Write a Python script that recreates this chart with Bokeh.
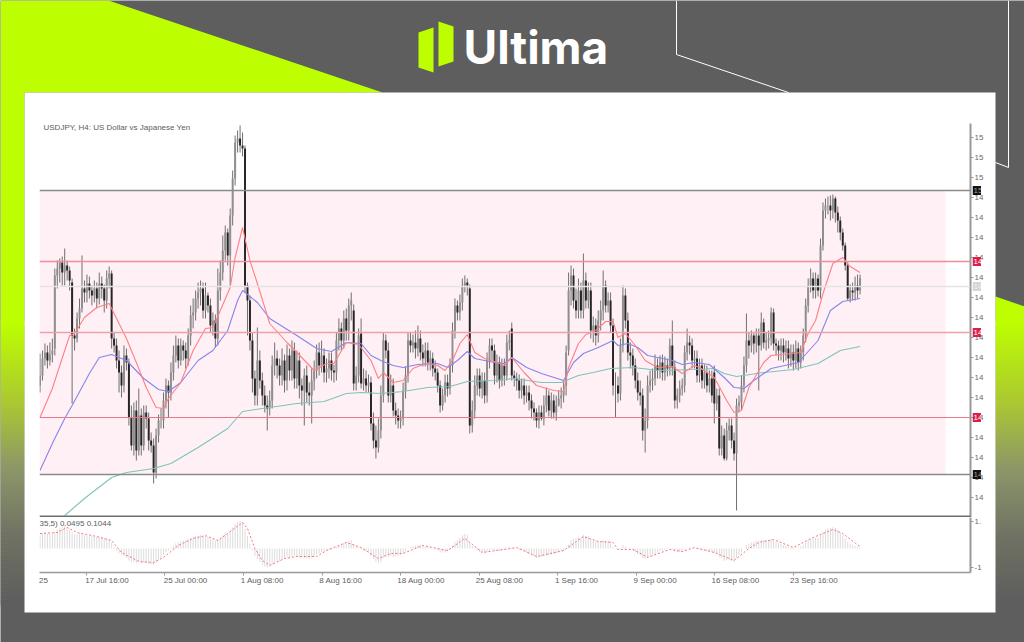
from bokeh.plotting import figure
from bokeh.models import FixedTicker, LinearAxis, Range1d, Span
from bokeh.core.properties import value
from bokeh.embed import file_html
from bokeh.resources import INLINE

TITLE = "USDJPY, H4:  US Dollar vs Japanese Yen"
OSC_TEXT = "35,5) 0.0495 0.1044"

opens = [
148.05,148.15,148.32,148.38,148.30,148.36,148.42,149.15,149.22,149.28,
149.18,149.25,149.20,149.08,148.55,148.52,148.72,148.82,149.02,148.98,
149.07,149.00,148.95,149.02,148.92,149.07,149.02,148.90,149.12,149.17,
148.52,148.45,148.30,148.18,148.05,148.35,148.28,147.73,147.45,147.80,
147.40,147.75,147.45,147.78,147.72,147.50,147.45,147.18,147.55,147.70,
147.70,147.90,148.05,147.98,148.18,148.35,148.45,148.30,148.45,148.40,
148.32,148.55,148.75,148.78,148.92,148.98,149.02,148.80,148.95,148.85,
148.65,148.70,148.52,149.00,149.18,149.40,149.58,149.35,149.75,150.12,
150.48,150.52,150.45,150.42,149.05,148.90,148.50,148.12,147.95,148.30,
148.10,147.95,147.85,147.82,147.90,148.25,148.32,148.25,148.15,148.30,
148.10,148.35,148.20,148.40,148.12,148.30,148.05,148.00,148.15,147.98,
147.95,148.10,148.20,148.38,148.25,148.35,148.18,148.22,148.30,148.20,
148.18,148.50,148.62,148.50,148.72,148.60,148.85,148.80,148.07,148.15,
148.57,148.07,148.12,148.05,148.08,147.67,147.50,147.43,147.60,147.95,
148.50,148.40,147.95,148.05,147.80,147.75,147.70,147.72,148.00,148.15,
148.50,148.45,148.48,148.42,148.52,148.38,148.32,148.40,148.28,148.32,
148.22,148.18,148.05,147.85,147.95,148.08,148.02,148.25,148.60,148.85,
148.78,148.88,149.05,149.08,149.02,147.65,147.80,148.05,148.15,148.02,
148.10,147.95,148.30,148.45,148.40,148.15,148.28,148.10,148.25,148.15,
148.48,148.62,148.15,148.12,148.10,148.00,148.05,147.95,147.98,147.90,
147.82,147.78,147.70,147.78,147.72,147.85,147.95,147.80,147.90,147.78,
147.85,147.92,147.95,148.05,148.40,149.00,149.15,148.90,148.80,149.00,
148.80,149.10,148.90,149.00,148.60,148.65,148.55,148.70,148.80,149.05,
148.85,148.90,148.65,148.05,148.05,147.97,148.45,148.95,148.70,148.38,
148.35,148.25,148.10,147.98,147.95,147.60,147.70,148.05,148.10,148.12,
148.25,148.20,148.28,148.18,148.25,148.22,148.45,148.23,147.90,147.95,
148.02,148.05,148.38,148.48,148.45,148.30,148.32,148.15,148.25,148.10,
148.18,148.05,148.12,148.18,147.87,147.95,147.42,147.55,147.32,147.60,
147.65,147.50,147.37,147.85,147.88,148.05,148.25,148.50,148.45,148.55,
148.47,148.55,148.45,148.68,148.48,148.50,148.52,148.78,148.47,148.45,
148.40,148.45,148.38,148.42,148.32,148.38,148.30,148.42,148.28,148.38,
148.55,148.85,149.05,149.12,149.00,149.12,149.00,149.45,149.80,149.85,
149.85,149.80,149.92,149.78,149.70,149.58,149.45,149.25,148.92,149.00,
148.98,149.05,149.00]

highs = [
148.37,148.40,148.47,148.45,148.48,148.52,149.22,149.30,149.32,149.34,
149.42,149.30,149.24,149.12,148.62,148.78,148.92,149.35,149.10,149.16,
149.14,149.05,149.10,149.08,149.18,149.14,149.06,149.20,149.24,149.20,
148.58,148.52,148.40,148.25,148.45,148.42,148.32,147.85,147.88,147.90,
148.02,147.82,147.85,147.85,147.78,147.58,147.52,147.62,147.76,147.82,
147.98,148.12,148.10,148.28,148.45,148.55,148.52,148.52,148.50,148.48,
148.62,148.85,148.92,149.00,149.08,149.10,149.08,149.08,148.98,148.92,
148.78,148.76,149.22,149.30,149.55,149.65,149.62,149.82,150.20,150.55,
150.60,150.65,150.58,150.45,149.08,148.95,148.58,148.20,148.63,148.40,
148.18,148.05,147.95,148.00,148.35,148.48,148.40,148.32,148.42,148.36,
148.46,148.42,148.50,148.48,148.40,148.38,148.12,148.22,148.25,148.08,
148.22,148.30,148.46,148.48,148.50,148.42,148.32,148.38,148.38,148.26,
148.58,148.72,148.68,148.80,148.82,148.92,148.98,148.86,148.24,148.62,
148.72,148.22,148.20,148.16,148.14,147.78,147.65,147.72,148.05,148.58,
148.56,148.48,148.16,148.12,147.88,147.82,147.80,148.08,148.24,148.58,
148.58,148.56,148.60,148.65,148.60,148.46,148.48,148.48,148.40,148.38,
148.30,148.22,148.10,148.02,148.16,148.16,148.32,148.68,148.92,148.90,
148.96,149.12,149.15,149.12,149.06,147.90,148.15,148.22,148.22,148.18,
148.18,148.38,148.52,148.52,148.46,148.36,148.34,148.32,148.32,148.56,
148.60,148.68,148.20,148.18,148.16,148.12,148.12,148.05,148.05,147.96,
147.88,147.82,147.85,147.85,147.95,148.03,148.00,147.98,147.96,147.95,
148.00,148.03,148.10,148.45,149.18,149.25,149.22,149.02,149.12,149.08,
149.37,149.18,149.08,149.08,148.74,148.72,148.80,148.90,149.20,149.10,
148.98,148.98,148.72,148.18,148.14,148.52,149.05,149.02,148.78,148.48,
148.42,148.32,148.18,148.10,148.02,147.82,148.15,148.20,148.22,148.36,
148.32,148.35,148.36,148.34,148.32,148.52,148.70,148.30,148.02,148.10,
148.12,148.45,148.62,148.55,148.52,148.40,148.40,148.32,148.32,148.26,
148.25,148.20,148.20,148.25,148.02,148.02,147.65,147.62,147.68,147.72,
147.72,147.58,147.92,147.95,148.15,148.34,148.77,148.58,148.60,148.58,
148.62,148.62,148.78,148.72,148.58,148.60,148.83,148.82,148.52,148.50,
148.52,148.52,148.50,148.50,148.46,148.46,148.50,148.48,148.45,148.62,
148.92,149.12,149.22,149.18,149.18,149.16,149.52,149.88,149.92,149.94,
149.95,149.96,149.94,149.84,149.74,149.62,149.48,149.28,149.06,149.08,
149.14,149.16,149.16]

lows = [
147.98,148.10,148.25,148.22,148.25,148.28,148.35,149.02,149.08,149.05,
149.05,149.10,149.00,147.87,148.40,148.48,148.62,148.78,148.88,148.88,
148.92,148.85,148.88,148.82,148.86,148.92,148.78,148.82,149.02,148.42,
148.38,148.22,147.98,147.93,147.98,148.20,147.65,147.40,147.35,147.30,
147.35,147.35,147.40,147.62,147.40,147.38,147.07,147.12,147.48,147.62,
147.62,147.82,147.73,147.90,148.10,148.28,148.22,148.25,148.30,148.22,
148.25,148.45,148.62,148.70,148.82,148.85,148.72,148.72,148.78,148.58,
148.55,148.43,148.45,148.90,149.10,149.30,149.25,149.05,149.65,150.05,
150.38,150.38,150.34,148.98,148.55,148.40,147.98,147.85,147.85,148.02,
147.85,147.78,147.60,147.75,147.82,148.15,148.12,148.05,148.05,147.98,
148.00,148.10,148.10,148.02,148.02,147.92,147.85,147.65,147.88,147.85,
147.67,148.00,148.12,148.15,148.18,148.08,148.08,148.12,148.10,148.08,
148.10,148.40,148.40,148.42,148.50,148.50,148.70,148.00,148.00,148.08,
148.02,148.00,147.98,147.98,147.60,147.42,147.32,147.38,147.52,147.88,
148.32,147.88,147.88,147.74,147.66,147.62,147.62,147.65,147.92,148.08,
148.38,148.38,148.32,148.34,148.30,148.24,148.24,148.20,148.20,148.14,
148.10,147.98,147.78,147.80,147.88,147.94,147.96,148.18,148.52,148.70,
148.70,148.80,148.98,148.95,147.57,147.58,147.72,147.95,147.94,147.92,
147.87,147.88,148.22,148.30,148.06,148.08,148.02,148.04,148.05,148.10,
148.40,148.10,148.04,148.00,147.92,147.92,147.86,147.88,147.80,147.72,
147.70,147.63,147.62,147.70,147.65,147.78,147.74,147.72,147.72,147.70,
147.84,147.82,147.88,147.95,148.35,148.85,148.82,148.72,148.72,148.72,
148.72,148.82,148.82,148.52,148.48,148.45,148.48,148.60,148.70,148.78,
148.78,148.58,147.95,147.73,147.88,147.90,148.38,148.62,148.30,148.22,
148.15,148.02,147.90,147.85,147.50,147.38,147.62,147.98,148.00,148.05,
148.12,148.12,148.10,148.10,148.14,148.15,148.15,147.82,147.82,147.88,
147.95,147.98,148.30,148.36,148.22,148.22,148.08,148.08,148.02,148.02,
147.98,147.98,147.88,147.67,147.80,147.35,147.35,147.30,147.30,147.50,
147.42,147.30,146.80,147.78,147.80,147.98,148.18,148.32,148.38,148.36,
148.38,148.00,148.40,148.42,148.40,148.42,148.45,148.40,148.35,148.30,
148.30,148.28,148.30,148.22,148.24,148.20,148.22,148.20,148.22,148.30,
148.48,148.78,148.98,148.92,148.92,148.94,148.92,149.40,149.72,149.76,
149.70,149.72,149.68,149.58,149.50,149.40,149.20,148.90,148.88,148.90,
148.90,148.92,148.96]

closes = [
148.15,148.32,148.38,148.30,148.36,148.40,149.15,149.22,149.28,149.18,
149.25,149.20,149.10,148.55,148.52,148.72,148.82,149.02,148.98,149.07,
149.00,148.95,149.02,148.92,149.07,149.02,148.90,149.12,149.17,148.52,
148.45,148.30,148.18,148.05,148.35,148.28,147.73,147.45,147.80,147.40,
147.75,147.45,147.78,147.72,147.50,147.45,147.18,147.55,147.70,147.70,
147.90,148.05,147.98,148.18,148.35,148.45,148.30,148.45,148.40,148.32,
148.55,148.75,148.78,148.92,148.98,149.02,148.80,148.95,148.85,148.65,
148.70,148.52,149.00,149.18,149.40,149.58,149.35,149.75,150.12,150.48,
150.52,150.45,150.42,149.05,148.90,148.50,148.12,147.95,148.30,148.10,
147.95,147.85,147.82,147.90,148.25,148.32,148.25,148.15,148.30,148.10,
148.35,148.20,148.40,148.12,148.30,148.05,148.00,148.15,147.98,147.95,
148.10,148.20,148.38,148.25,148.35,148.18,148.22,148.30,148.20,148.18,
148.50,148.62,148.50,148.72,148.60,148.85,148.90,148.07,148.15,148.55,
148.07,148.12,148.05,148.08,147.67,147.50,147.43,147.60,147.95,148.50,
148.40,147.95,148.05,147.80,147.75,147.70,147.72,148.00,148.15,148.50,
148.45,148.48,148.42,148.52,148.38,148.32,148.40,148.28,148.32,148.22,
148.18,148.05,147.85,147.95,148.08,148.02,148.25,148.60,148.85,148.78,
148.88,149.05,149.08,149.05,147.65,147.80,148.05,148.15,148.02,148.10,
147.95,148.30,148.45,148.40,148.15,148.28,148.10,148.25,148.15,148.48,
148.50,148.15,148.12,148.10,148.00,148.05,147.95,147.98,147.90,147.82,
147.78,147.70,147.78,147.72,147.85,147.95,147.80,147.90,147.78,147.85,
147.92,147.95,148.00,148.38,149.00,149.15,148.90,148.80,149.00,148.80,
149.10,148.90,149.00,148.60,148.65,148.55,148.70,148.80,149.05,148.85,
148.90,148.65,148.05,148.05,147.97,148.45,148.95,148.70,148.38,148.35,
148.25,148.10,147.98,147.95,147.60,147.70,148.05,148.10,148.12,148.25,
148.20,148.28,148.18,148.25,148.22,148.45,148.23,147.90,147.95,148.02,
148.05,148.38,148.48,148.45,148.30,148.32,148.15,148.25,148.10,148.18,
148.05,148.12,147.95,147.87,147.95,147.42,147.55,147.32,147.60,147.65,
147.50,147.37,147.85,147.88,148.05,148.25,148.50,148.45,148.55,148.47,
148.55,148.45,148.68,148.48,148.50,148.52,148.78,148.47,148.45,148.40,
148.45,148.38,148.42,148.32,148.38,148.30,148.42,148.28,148.38,148.55,
148.85,149.05,149.12,149.00,149.12,149.00,149.45,149.80,149.85,149.85,
149.80,149.92,149.78,149.70,149.58,149.45,149.25,148.92,149.00,148.98,
149.05,149.00,149.12]

red_bars = [0,5,10,12,14,18,23,28,30,35,39,43,47,50,52,57,62,67,70,73,77,79,82,85,88,93,100,104,111,116,119,124,129,134,137,139,143,147,151,156,161,164,167,170,173,176,180,185,188,191,196,201,208,212,214,218,221,225,229,232,234,237,241,245,250,256,260,265,267,273,278,281,284,287,293,296,305,308,311,314,317,321,325,328,332]
red_ma = [147.73,148.02,148.40,148.55,148.57,148.73,148.83,148.87,148.77,148.52,148.28,148.03,147.83,147.82,147.92,148.08,148.40,148.62,148.63,148.80,149.03,149.33,149.63,149.30,149.07,148.67,148.48,148.38,148.20,148.27,148.27,148.48,148.46,148.30,148.12,148.18,148.08,148.10,148.22,148.27,148.25,148.20,148.30,148.47,148.56,148.38,148.32,148.28,148.25,148.33,148.18,148.05,148.00,147.99,148.23,148.47,148.56,148.60,148.69,148.69,148.53,148.57,148.45,148.30,148.23,148.24,148.17,148.25,148.23,148.13,147.90,147.78,147.80,148.03,148.28,148.35,148.37,148.38,148.57,148.70,148.97,149.27,149.33,149.24,149.18]

blue_bars = [0,5,10,13,20,24,29,35,42,48,52,57,64,70,76,80,82,88,93,104,112,118,124,130,134,138,143,147,153,161,165,169,173,176,184,188,191,197,203,212,216,220,226,232,234,238,242,246,252,256,260,265,271,277,281,285,289,296,307,315,320,325,332]
blue_ma = [147.20,147.47,147.72,147.85,148.17,148.33,148.36,148.30,148.12,148.01,147.99,148.08,148.30,148.40,148.60,148.90,149.00,148.88,148.72,148.55,148.42,148.39,148.48,148.47,148.35,148.30,148.25,148.23,148.26,148.27,148.23,148.30,148.39,148.32,148.28,148.27,148.33,148.23,148.17,148.10,148.28,148.37,148.43,148.50,148.45,148.47,148.43,148.35,148.32,148.30,148.26,148.28,148.26,148.13,148.03,148.02,148.10,148.22,148.28,148.50,148.80,148.89,148.92]

teal_bars = [10,18,29,35,46,53,64,76,82,90,104,115,124,130,138,147,157,166,173,184,192,203,211,218,224,231,240,251,265,273,277,282,293,305,315,324,332]
teal_ma = [146.75,146.92,147.13,147.18,147.22,147.27,147.43,147.62,147.79,147.82,147.87,147.89,147.97,147.98,147.97,147.99,148.03,148.04,148.09,148.10,148.12,148.08,148.08,148.15,148.18,148.22,148.23,148.20,148.21,148.22,148.17,148.14,148.18,148.21,148.27,148.40,148.44]

macd_hist = [
.75,.8,.82,.8,.78,.78,.9,1.0,1.1,1.15,
1.2,1.1,1.0,.85,.75,.75,.8,.78,.72,.7,
.68,.65,.6,.62,.6,.58,.55,.52,.45,.3,
.1,-.1,-.25,-.35,-.42,-.5,-.65,-.72,-.7,-.78,
-.72,-.8,-.75,-.78,-.8,-.82,-.85,-.75,-.62,-.5,
-.35,-.2,-.1,.05,.15,.28,.32,.38,.42,.45,
.5,.55,.62,.65,.68,.72,.66,.65,.6,.52,
.5,.42,.5,.58,.7,.85,.8,.95,1.1,1.3,
1.42,1.45,1.4,1.05,.65,.25,-.1,-.4,-.55,-.7,
-.85,-.95,-1.0,-.95,-.85,-.75,-.7,-.65,-.58,-.55,
-.48,-.45,-.42,-.42,-.45,-.48,-.52,-.5,-.52,-.55,
-.48,-.42,-.3,-.25,-.2,-.18,-.12,-.08,-.05,-.02,
.08,.15,.2,.28,.32,.4,.45,.25,.1,.05,
-.05,-.1,-.15,-.2,-.4,-.55,-.7,-.75,-.7,-.5,
-.42,-.45,-.4,-.45,-.45,-.4,-.35,-.25,-.15,.02,
.08,.12,.15,.2,.18,.12,.1,.08,.05,0,
-.05,-.1,-.2,-.22,-.2,-.15,-.05,.15,.35,.45,
.55,.7,.78,.72,.3,.1,-.02,-.1,-.18,-.2,
-.25,-.18,-.1,-.08,-.12,-.1,-.12,-.08,-.05,.05,
.1,.05,.02,0,-.08,-.1,-.15,-.2,-.28,-.35,
-.42,-.5,-.48,-.45,-.42,-.38,-.38,-.32,-.3,-.25,
-.2,-.15,-.1,.02,.2,.45,.52,.55,.62,.58,
.72,.65,.65,.5,.42,.38,.38,.38,.45,.4,
.42,.35,.1,-.02,-.1,.02,.18,.1,0,-.05,
-.1,-.2,-.3,-.35,-.5,-.55,-.48,-.42,-.35,-.3,
-.22,-.15,-.1,-.08,-.05,0,-.05,-.15,-.18,-.2,
-.2,-.08,.02,.05,.02,0,-.05,-.05,-.1,-.1,
-.15,-.15,-.2,-.25,-.28,-.45,-.5,-.65,-.62,-.6,
-.65,-.7,-.5,-.35,-.2,0,.18,.25,.32,.35,
.42,.42,.48,.45,.45,.45,.5,.42,.35,.3,
.25,.18,.15,.08,.05,.02,.05,.05,.1,.18,
.3,.42,.5,.52,.55,.58,.7,.88,1.0,1.05,
1.1,1.12,1.08,1.0,.85,.7,.55,.35,.25,.18,
.12,.08,.05]

signal_bars = [0,7,11,15,19,23,29,33,40,46,50,56,62,67,72,76,82,84,87,90,93,99,104,112,116,124,130,137,142,147,155,165,172,179,188,193,201,212,220,226,232,234,240,246,255,260,265,273,281,287,291,297,305,313,321,325,332]
signal = [.79,.84,1.11,.84,.74,.63,.42,-.21,-.68,-.74,-.47,.16,.53,.68,.42,.79,1.37,1.05,0,-.63,-.89,-.53,-.42,-.42,-.11,.32,.05,-.53,-.26,-.26,.16,-.11,.53,-.21,-.05,.05,-.42,-.11,.63,.37,.32,-.05,-.05,-.47,-.05,-.16,.05,-.21,-.63,0,.32,.47,.05,.58,1.0,.79,.10]

price_ticks = [150.53,150.33,150.13,149.93,149.73,149.53,149.33,149.13,148.93,148.73,148.53,148.33,148.13,147.93,147.73,147.53,147.33,147.13,146.93]
osc_ticks = [1.42,-1.0]
osc_tick_labels = ["1.","-1"]
date_ticks = [18.8,50.6,82.4,114.2,146.0,177.8,209.6,241.4,273.2,305.0]
date_labels = ["17 Jul 16:00","25 Jul 00:00","1 Aug 08:00","8 Aug 16:00","18 Aug 00:00","25 Aug 08:00","1 Sep 16:00","9 Sep 00:00","16 Sep 08:00","23 Sep 16:00"]
zone_top, zone_bottom = 150.00, 147.16
red_levels = [149.29,148.58,147.73]
pivot = 149.04
tag_levels = [zone_top, zone_bottom, red_levels[0], red_levels[1], red_levels[2], pivot]
tag_fills = ["#111111", "#111111", "#dc1f48", "#dc1f48", "#dc1f48", "#d6d6d6"]
tag_colors = ["#9a9a9a", "#9a9a9a", "#ffffff", "#ffffff", "#ffffff", "#ededed"]
tag_texts = ["15", "14", "14", "14", "14", "14"]

assert len(opens)==len(highs)==len(lows)==len(closes)==len(macd_hist)==333, (len(opens),len(highs),len(lows),len(closes),len(macd_hist))
assert len(red_bars)==len(red_ma) and len(blue_bars)==len(blue_ma) and len(teal_bars)==len(teal_ma) and len(signal_bars)==len(signal)

GRAY = "#5e5e5e"; LIME = "#bdff00"; AXIS = "#999999"; TXT = "#5c5c5c"; FONT = "Liberation Sans"
bars = list(range(333))

def place(left, top, w, h):
    return {"position": "absolute", "left": f"{left}px", "top": f"{top}px", "width": f"{w}px", "height": f"{h}px"}

# ---- page background with the brand artwork
bg = figure(width=1024, height=642, x_range=Range1d(0, 1024), y_range=Range1d(642, 0),
            output_backend="svg", toolbar_location=None, min_border=0,
            x_axis_location=None, y_axis_location=None, styles=place(0, 0, 1024, 642))
bg.grid.visible = False
bg.outline_line_color = None
bg.background_fill_color = GRAY
bg.border_fill_color = GRAY
bg.patch([0,108,382,24,24,0], [0,0,92,92,325,325], color=LIME, line_color=None)
bg.patch([995,1024,1024,995], [296,306,325,325], color=LIME, line_color=None)
stops = [(320,(189,255,0)),(400,(172,200,50)),(467,(140,150,105)),(533,(112,115,100)),(600,(94,94,94))]
for y in range(320, 604, 4):
    for (y0,c0),(y1,c1) in zip(stops, stops[1:]):
        if y0 <= y <= y1:
            t = (y-y0)/(y1-y0)
            col = "#%02x%02x%02x" % tuple(int(a+(b-a)*t) for a,b in zip(c0,c1))
            break
    bg.quad(left=[0,995], right=[24,1024], top=[y,y], bottom=[y+6,y+6], color=col, line_color=None)
bg.quad(left=[24], right=[995], top=[92], bottom=[612], color="white", line_color=None)
bg.line([676,676,788], [0,54,92], color="white", line_width=1)
bg.line([1008,1008,995], [0,167,162], color="white", line_width=1)
bg.patch([418,433,433,418], [32,27,72,67], color=LIME, line_color=None)
bg.patch([438,453,453,438], [21,26,61,66], color=LIME, line_color=None)
bg.text(x=[463], y=[46], text=["Ultima"], text_color="white", text_font=value("Inter"),
        text_font_style="bold", text_font_size="46px", text_baseline="alphabetic")

# ---- price panel
STEP = 2.47
x0 = -0.5/STEP
x1 = (970-39.5)/STEP
p = figure(width=971, height=425, x_range=Range1d(x0, x1), y_range=Range1d(146.73, 150.67),
           output_backend="svg", toolbar_location=None, min_border_left=15, min_border_right=25,
           min_border_top=31, min_border_bottom=0, x_axis_location=None, y_axis_location="right",
           styles=place(24, 92, 971, 425))
p.grid.visible = False
p.outline_line_color = None
p.background_fill_color = "white"
p.border_fill_color = None
ax = p.yaxis[0]
ax.ticker = FixedTicker(ticks=price_ticks)
ax.major_label_overrides = {t: ("15" if t > 150 else "14") for t in price_ticks}
ax.axis_line_color = AXIS; ax.axis_line_width = 2
ax.major_tick_line_color = AXIS; ax.major_tick_out = 3; ax.major_tick_in = 0
ax.minor_tick_line_color = None
ax.major_label_text_font = FONT; ax.major_label_text_font_size = "8px"
ax.major_label_text_color = "#6a6a6a"; ax.major_label_standoff = 1

p.quad(left=[x0], right=[(945-39.5)/STEP], top=[zone_top], bottom=[zone_bottom], color="#fff0f5", line_color=None)
p.add_layout(Span(location=pivot, dimension="width", line_color="#e4e4e4", line_width=1.5))
for lv, w, c in zip(red_levels, [1.5, 1.5, 1], ["#ec8f9c", "#f0a0ab", "#e8798c"]):
    p.add_layout(Span(location=lv, dimension="width", line_color=c, line_width=w))
for lv in (zone_top, zone_bottom):
    p.add_layout(Span(location=lv, dimension="width", line_color="#8a8a8a", line_width=1.5))
p.add_layout(Span(location=146.74, dimension="width", line_color="#6e6e6e", line_width=2))

up = [i for i in bars if closes[i] >= opens[i]]
dn = [i for i in bars if closes[i] < opens[i]]
p.segment(x0=bars, x1=bars, y0=lows, y1=highs, color="#707070", line_width=1)
p.vbar(x=up, width=0.8, bottom=[opens[i] for i in up], top=[closes[i] for i in up], color="#8f8f8f", line_color=None)
p.vbar(x=dn, width=0.8, bottom=[closes[i] for i in dn], top=[opens[i] for i in dn], color="#262626", line_color=None)
p.line(teal_bars, teal_ma, color="#7cc4bc", line_width=1.1)
p.line(blue_bars, blue_ma, color="#8585ea", line_width=1.1)
p.line(red_bars, red_ma, color="#ff7f84", line_width=1.1)
p.text(x=[(43-39.5)/STEP], y=[150.63], text=[TITLE], text_color=TXT, text_font=value(FONT),
       text_font_size="8px", text_baseline="middle")

# ---- level tags, beside the price axis
tags = figure(width=9, height=394, x_range=Range1d(0, 1), y_range=Range1d(146.73, 150.67),
              output_backend="svg", toolbar_location=None, min_border=0,
              x_axis_location=None, y_axis_location=None, styles=place(972, 123, 9, 394))
tags.grid.visible = False
tags.outline_line_color = None
tags.background_fill_color = None
tags.border_fill_color = None
tags.hbar(y=tag_levels, height=0.09, left=0, right=1, color=tag_fills, line_color=None)
tags.text(x=[0.12]*6, y=tag_levels, text=tag_texts, text_color=tag_colors, text_font=value(FONT),
          text_font_size="8px", text_baseline="middle")

# ---- oscillator panel
o = figure(width=971, height=95, x_range=Range1d(x0, x1), y_range=Range1d(-1.263, 1.632),
           output_backend="svg", toolbar_location=None, min_border_left=15, min_border_right=25,
           min_border_top=0, min_border_bottom=40, y_axis_location="right",
           styles=place(24, 517, 971, 95))
o.grid.visible = False
o.outline_line_color = None
o.background_fill_color = "white"
o.border_fill_color = None
oy = o.yaxis[0]
oy.ticker = FixedTicker(ticks=osc_ticks)
oy.major_label_overrides = dict(zip(osc_ticks, osc_tick_labels))
oy.axis_line_color = AXIS; oy.axis_line_width = 2
oy.major_tick_line_color = AXIS; oy.major_tick_out = 3; oy.major_tick_in = 0
oy.minor_tick_line_color = None
oy.major_label_text_font = FONT; oy.major_label_text_font_size = "8px"
oy.major_label_text_color = "#6a6a6a"; oy.major_label_standoff = 1

ox = o.xaxis[0]
ox.ticker = FixedTicker(ticks=date_ticks)
ox.major_label_overrides = {t: " " for t in date_ticks}
ox.axis_line_color = AXIS; ox.axis_line_width = 1.5
ox.major_tick_line_color = AXIS; ox.major_tick_out = 3; ox.major_tick_in = 0
ox.minor_tick_line_color = None
ox.major_label_text_font_size = "1px"; ox.major_label_standoff = 0

label_pos = [t + (8.3 if len(s) == 12 else 7.6) for t, s in zip(date_ticks, date_labels)] + [1.4]
lx = LinearAxis(ticker=FixedTicker(ticks=label_pos),
                major_label_overrides=dict(zip(label_pos, date_labels + ["25"])))
lx.axis_line_color = None; lx.major_tick_line_color = None; lx.minor_tick_line_color = None
lx.major_label_text_font = FONT; lx.major_label_text_font_size = "8px"
lx.major_label_text_color = TXT; lx.major_label_standoff = -10
o.add_layout(lx, "below")

o.segment(x0=bars, x1=bars, y0=[0]*333, y1=macd_hist, color="#dcdcdc", line_width=1)
o.line(signal_bars, signal, color="#f5757c", line_width=1, line_dash="2 2")
o.text(x=[x0], y=[1.32], text=[OSC_TEXT], text_color=TXT, text_font=value(FONT),
       text_font_size="8px", text_baseline="middle")

open("out.html", "w").write(file_html([bg, p, o, tags], INLINE))
